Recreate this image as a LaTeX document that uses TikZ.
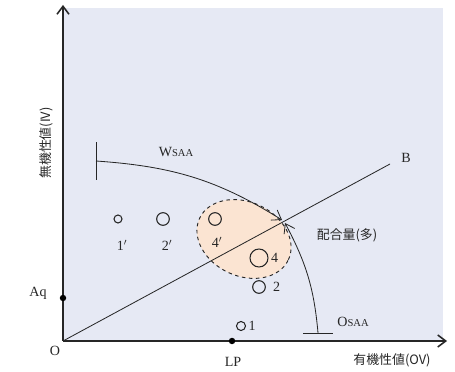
\documentclass[tikz,border=0pt]{standalone}
\usepackage{fontspec}
\setmainfont{Liberation Serif}
\newfontfamily\jfont{Noto Sans CJK JP}
\usetikzlibrary{arrows.meta,positioning}
\definecolor{plotbg}{HTML}{E6E9F4}
\definecolor{mixsoft}{HTML}{FBE4D2}
\definecolor{inkline}{HTML}{262626}
\tikzset{
  axarr/.style={-{Straight Barb[length=2.4mm,width=3.6mm]},line width=1.3pt,draw=inkline},
  carr/.style={-{Straight Barb[length=2.6mm,width=3.6mm]},line width=0.7pt,draw=inkline},
  vline/.style={line width=0.7pt,draw=inkline},
  sample/.style={circle,draw=inkline,line width=0.9pt,inner sep=0pt},
  vdot/.style={circle,fill=black,inner sep=0pt,minimum size=5.5pt},
  vlab/.style={font=\fontsize{12}{14}\selectfont,text=inkline,inner sep=1pt},
  jlab/.style={font=\fontsize{11}{13}\selectfont\jfont,text=inkline,inner sep=1pt}
}
\begin{document}
\begin{tikzpicture}[x=0.03cm,y=0.03cm]
  \useasboundingbox (0,0) rectangle (455,372);
  \fill[plotbg] (63,31) rectangle (443,364);
  % mixing region
  \draw[dashed,line width=0.8pt,draw=inkline,fill=mixsoft,rotate around={-25:(244,133)}]
    (244,133) ellipse [x radius=49,y radius=37];
  % axes and mixing line
  \coordinate (O) at (63,31);
  \coordinate (ytop) at (63,367);
  \coordinate (xend) at (447,31);
  \coordinate (bend) at (390,208);
  \coordinate (meet) at (283,151);
  \draw[vline] (O) -- (bend);
  \draw[axarr] (O) -- (ytop);
  \draw[axarr] (O) -- (xend);
  \node[vdot] (aq) at (63,74) {};
  \node[vdot] (lp) at (232,31) {};
  % SAA curves
  \coordinate (wbase) at (96,211);
  \coordinate (obase) at (318,39);
  \draw[vline] (96,192) -- (96,230);
  \draw[vline] (303,39) -- (333,39);
  \draw[carr] (wbase) to[out=-4,in=148] ([shift={(-1,1)}]meet);
  \draw[carr] (obase) to[out=95,in=-62] ([shift={(2,-2)}]meet);
  % samples
  \node[sample,minimum size=0.24cm] (s1p) at (118,153) {};
  \node[sample,minimum size=0.38cm] (s2p) at (163,153) {};
  \node[sample,minimum size=0.38cm] (s4p) at (215,153) {};
  \node[sample,minimum size=0.54cm] (s4) at (259,114) {};
  \node[sample,minimum size=0.38cm] (s2) at (259,85) {};
  \node[sample,minimum size=0.27cm] (s1) at (241,46) {};
  \node[vlab] (l1p) at (122,127) {1$'$};
  \node[vlab] (l2p) at (167,127) {2$'$};
  \node[vlab] (l4p) at (217,130) {4$'$};
  \node[vlab,right=1pt of s4] (l4) {4};
  \node[vlab,right=5pt of s2] (l2) {2};
  \node[vlab,right=1pt of s1] (l1) {1};
  % labels
  \node[vlab] (lo) at (55,21) {O};
  \node[vlab] (laq) at (38,79) {Aq};
  \node[vlab] (llp) at (233,10) {LP};
  \node[vlab] (lb) at (406,214) {B};
  \node[vlab] (lw) at (176,220) {W{\fontsize{9}{10}\selectfont SAA}};
  \node[vlab] (los) at (353,50) {O{\fontsize{9}{10}\selectfont SAA}};
  \node[jlab] (lmix) at (347,137) {配合量(多)};
  \node[jlab] (lx) at (392,12) {有機性値(OV)};
  \node[jlab,rotate=90] (ly) at (46,229) {無機性値(IV)};
\end{tikzpicture}
\end{document}
